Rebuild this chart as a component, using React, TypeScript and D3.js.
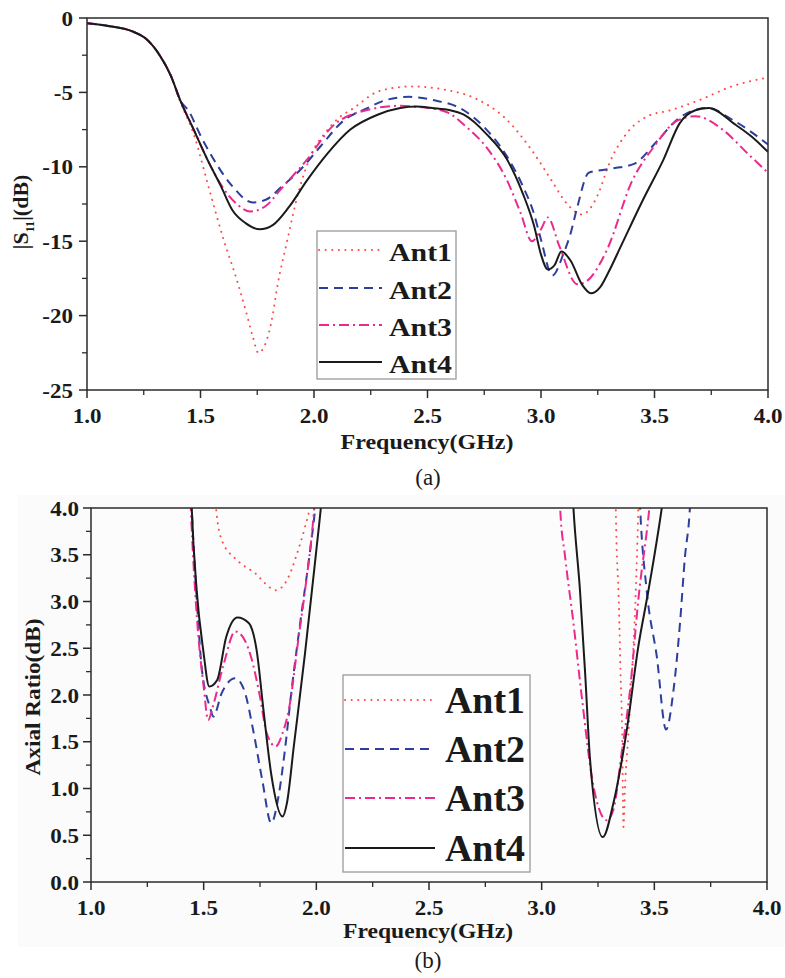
import React from 'react';
import * as d3 from 'd3';

// ---------------- DATA ----------------
const SERIES_NAMES = ['Ant1', 'Ant2', 'Ant3', 'Ant4'];

const X_TICKS = [1.0, 1.5, 2.0, 2.5, 3.0, 3.5, 4.0];
const X_TICK_LABELS = ['1.0', '1.5', '2.0', '2.5', '3.0', '3.5', '4.0'];

const S11_Y_TICKS = [0, -5, -10, -15, -20, -25];
const S11_Y_TICK_LABELS = ['0', '-5', '-10', '-15', '-20', '-25'];

const AR_Y_TICKS = [0, 0.5, 1.0, 1.5, 2.0, 2.5, 3.0, 3.5, 4.0];
const AR_Y_TICK_LABELS = ['0.0', '0.5', '1.0', '1.5', '2.0', '2.5', '3.0', '3.5', '4.0'];

// (a) |S11| (dB)
const S11_ANT1_F = [1.0, 1.1, 1.2, 1.26, 1.32, 1.37, 1.41, 1.47, 1.54, 1.6, 1.66, 1.7, 1.73, 1.755, 1.78, 1.81, 1.84, 1.88, 1.93, 1.99, 2.05, 2.11, 2.17, 2.29, 2.43, 2.57, 2.71, 2.84, 2.96, 3.05, 3.11, 3.18, 3.25, 3.3, 3.38, 3.47, 3.57, 3.7, 3.84, 4.0];
const S11_ANT1_DB = [-0.35, -0.55, -0.9, -1.4, -2.5, -3.9, -5.6, -7.8, -11.6, -14.8, -17.6, -19.7, -21.4, -22.5, -22.1, -20.6, -17.9, -15.1, -11.8, -9.1, -7.7, -6.7, -6.1, -4.9, -4.6, -4.8, -5.4, -6.7, -8.9, -11.0, -12.4, -13.2, -11.9, -9.8, -7.7, -6.6, -6.2, -5.5, -4.6, -4.0];

const S11_ANT2_F = [1.0, 1.1, 1.2, 1.26, 1.32, 1.37, 1.41, 1.45, 1.5, 1.57, 1.64, 1.73, 1.79, 1.86, 1.94, 2.03, 2.13, 2.23, 2.32, 2.42, 2.52, 2.66, 2.76, 2.85, 2.92, 2.97, 3.0, 3.05, 3.1, 3.13, 3.16, 3.21, 3.32, 3.41, 3.51, 3.61, 3.73, 3.85, 4.0];
const S11_ANT2_DB = [-0.35, -0.55, -0.9, -1.4, -2.5, -3.9, -5.5, -6.3, -7.9, -9.8, -11.3, -12.4, -12.2, -11.3, -10.2, -8.6, -6.9, -6.1, -5.5, -5.3, -5.5, -6.2, -7.5, -9.3, -11.3, -13.2, -14.9, -17.3, -15.8, -14.5, -12.7, -10.4, -10.1, -9.8, -8.3, -6.7, -6.05, -6.9, -8.5];

const S11_ANT3_F = [1.0, 1.1, 1.2, 1.26, 1.32, 1.37, 1.41, 1.47, 1.53, 1.59, 1.66, 1.72, 1.79, 1.86, 1.97, 2.08, 2.23, 2.38, 2.44, 2.58, 2.67, 2.76, 2.85, 2.91, 2.96, 3.0, 3.03, 3.08, 3.16, 3.2, 3.29, 3.4, 3.5, 3.6, 3.68, 3.8, 3.91, 4.0];
const S11_ANT3_DB = [-0.35, -0.55, -0.9, -1.4, -2.5, -3.9, -5.5, -7.5, -9.5, -11.2, -12.5, -13.0, -12.6, -11.4, -9.5, -7.3, -6.2, -5.9, -5.95, -6.3, -7.3, -8.7, -10.9, -13.1, -15.0, -14.2, -13.4, -15.3, -17.9, -17.7, -15.6, -11.0, -8.6, -6.9, -6.6, -7.5, -9.1, -10.4];

const S11_ANT4_F = [1.0, 1.1, 1.2, 1.26, 1.32, 1.37, 1.41, 1.47, 1.53, 1.59, 1.64, 1.7, 1.76, 1.82, 1.89, 1.97, 2.06, 2.16, 2.28, 2.38, 2.45, 2.52, 2.6, 2.66, 2.76, 2.85, 2.92, 2.97, 3.0, 3.03, 3.06, 3.09, 3.13, 3.18, 3.22, 3.26, 3.3, 3.35, 3.45, 3.54, 3.61, 3.68, 3.74, 3.85, 3.93, 4.0];
const S11_ANT4_DB = [-0.35, -0.55, -0.9, -1.4, -2.5, -3.9, -5.5, -7.5, -9.5, -11.3, -12.9, -13.8, -14.2, -13.9, -12.7, -10.9, -9.1, -7.5, -6.5, -6.05, -5.95, -6.05, -6.2, -6.5, -7.8, -9.5, -11.8, -14.0, -15.9, -16.9, -16.6, -15.7, -16.3, -17.9, -18.5, -18.1, -17.0, -15.4, -12.2, -9.5, -7.1, -6.2, -6.05, -7.1, -8.0, -9.0];

// (b) Axial ratio (dB), two bands per antenna (values above 4 leave the plot)
const AR_ANT1_B1_F = [1.545, 1.555, 1.58, 1.64, 1.68, 1.73, 1.77, 1.82, 1.87, 1.91, 1.95, 1.97, 1.985];
const AR_ANT1_B1_V = [4.4, 4.0, 3.66, 3.46, 3.38, 3.30, 3.2, 3.12, 3.23, 3.48, 3.80, 4.0, 4.3];
const AR_ANT1_B2_F = [3.327, 3.329, 3.343, 3.35, 3.357, 3.363, 3.37, 3.384, 3.40, 3.416, 3.429, 3.432];
const AR_ANT1_B2_V = [4.4, 4.0, 2.94, 2.23, 1.62, 0.59, 1.02, 1.55, 2.19, 3.01, 4.0, 4.3];

const AR_ANT2_B1_F = [1.44, 1.447, 1.47, 1.491, 1.528, 1.543, 1.58, 1.64, 1.68, 1.72, 1.76, 1.80, 1.831, 1.86, 1.89, 1.93, 1.97, 1.995, 2.01];
const AR_ANT2_B1_V = [4.4, 4.0, 3.0, 2.3, 1.87, 1.77, 2.02, 2.18, 2.05, 1.62, 1.09, 0.63, 0.9, 1.4, 2.05, 2.8, 3.5, 4.0, 4.4];
const AR_ANT2_B2_F = [3.43, 3.437, 3.466, 3.511, 3.552, 3.585, 3.614, 3.636, 3.656, 3.665];
const AR_ANT2_B2_V = [4.4, 4.0, 3.12, 2.41, 1.63, 2.05, 2.77, 3.48, 3.93, 4.3];

const AR_ANT3_B1_F = [1.435, 1.443, 1.47, 1.50, 1.52, 1.54, 1.59, 1.64, 1.66, 1.71, 1.75, 1.78, 1.82, 1.85, 1.88, 1.92, 1.95, 1.99, 2.0];
const AR_ANT3_B1_V = [4.5, 4.0, 2.83, 2.09, 1.73, 1.87, 2.34, 2.68, 2.66, 2.41, 1.98, 1.59, 1.45, 1.59, 1.87, 2.59, 3.12, 3.98, 4.3];
const AR_ANT3_B2_F = [3.075, 3.082, 3.104, 3.141, 3.178, 3.23, 3.289, 3.318, 3.355, 3.392, 3.429, 3.478, 3.49];
const AR_ANT3_B2_V = [4.4, 4.0, 3.48, 2.77, 1.98, 1.02, 0.66, 0.77, 1.38, 2.05, 3.02, 4.0, 4.3];

const AR_ANT4_B1_F = [1.44, 1.447, 1.469, 1.498, 1.525, 1.56, 1.60, 1.65, 1.70, 1.735, 1.765, 1.8, 1.85, 1.87, 1.90, 1.95, 2.0, 2.02, 2.035];
const AR_ANT4_B1_V = [4.5, 4.0, 3.12, 2.48, 2.09, 2.16, 2.62, 2.83, 2.77, 2.48, 1.85, 1.15, 0.70, 0.85, 1.45, 2.45, 3.55, 4.0, 4.4];
const AR_ANT4_B2_F = [3.13, 3.141, 3.170, 3.193, 3.215, 3.271, 3.318, 3.378, 3.429, 3.474, 3.533, 3.55];
const AR_ANT4_B2_V = [4.5, 4.0, 3.12, 2.23, 1.30, 0.48, 0.84, 1.63, 2.52, 3.12, 4.0, 4.3];

// ---------------- STYLE ----------------
const FONT = "'Liberation Serif','Times New Roman',Times,serif";
const STYLES = [
  { color: '#ff4a4a', dash: '0.1 6.5', width: 2, cap: 'round' },
  { color: '#2d3e9c', dash: '9 6', width: 2, cap: 'butt' },
  { color: '#ec2a8c', dash: '10 4 2 4', width: 2, cap: 'butt' },
  { color: '#1a1a1a', dash: undefined, width: 2, cap: 'butt' },
];
const AXIS = '#2b2b2b';

// approximate Times-Bold advance widths (em) to size tick labels like the reference
const glyphW = (c: string) => (c === '.' ? 0.25 : c === '-' ? 0.333 : 0.5);
const labelLen = (s: string, size: number) => s.split('').reduce((a, c) => a + glyphW(c), 0) * size;

const zip = (f: number[], v: number[]) => f.map((x, i) => [x, v[i]] as [number, number]);

function Axes({ x, y, xTicks, xLabels, yTicks, yLabels, xLabelY, yLabelRight }: any) {
  const [x0, x1] = x.range();
  const [y0, y1] = y.range();
  const xMinor = xTicks.slice(1).map((t: number, i: number) => (t + xTicks[i]) / 2);
  const yMinor = yTicks.slice(1).map((t: number, i: number) => (t + yTicks[i]) / 2);
  return (
    <g>
      <rect x={x0} y={y1} width={x1 - x0} height={y0 - y1} fill="none" stroke={AXIS} strokeWidth={1.5} />
      {xTicks.map((t: number, i: number) => (
        <g key={'xt' + i}>
          <line x1={x(t)} x2={x(t)} y1={y0} y2={y0 + 8} stroke={AXIS} strokeWidth={1.5} />
          <text x={x(t)} y={xLabelY} textAnchor="middle" fontFamily={FONT} fontWeight="bold" fontSize={21}
            textLength={labelLen(xLabels[i], 23)} lengthAdjust="spacingAndGlyphs" fill="#1a1a1a">{xLabels[i]}</text>
        </g>
      ))}
      {xMinor.map((t: number, i: number) => (
        <line key={'xm' + i} x1={x(t)} x2={x(t)} y1={y0} y2={y0 + 5} stroke={AXIS} strokeWidth={1.3} />
      ))}
      {yTicks.map((t: number, i: number) => (
        <g key={'yt' + i}>
          <line x1={x0 - 8} x2={x0} y1={y(t)} y2={y(t)} stroke={AXIS} strokeWidth={1.5} />
          <text x={yLabelRight} y={y(t)} dy="0.36em" textAnchor="end" fontFamily={FONT} fontWeight="bold" fontSize={21}
            textLength={labelLen(yLabels[i], 23)} lengthAdjust="spacingAndGlyphs" fill="#1a1a1a">{yLabels[i]}</text>
        </g>
      ))}
      {yMinor.map((t: number, i: number) => (
        <line key={'ym' + i} x1={x0 - 5} x2={x0} y1={y(t)} y2={y(t)} stroke={AXIS} strokeWidth={1.3} />
      ))}
    </g>
  );
}

function Series({ segs, x, y, style }: any) {
  const line = d3.line<[number, number]>().x((d) => x(d[0])).y((d) => y(d[1])).curve(d3.curveMonotoneX);
  return (
    <g>
      {segs.map((s: [number, number][], i: number) => (
        <path key={i} d={line(s) || ''} fill="none" stroke={style.color} strokeWidth={style.width}
          strokeDasharray={style.dash} strokeLinecap={style.cap} strokeLinejoin="round" />
      ))}
    </g>
  );
}

function Legend({ x0, y0, w, h, lineX0, lineX1, textX, ys, fontSize, textLen, baseOff }: any) {
  return (
    <g>
      <rect x={x0} y={y0} width={w} height={h} fill="#fff" stroke="#9a9a9a" strokeWidth={1.3} />
      {SERIES_NAMES.map((name, i) => {
        const st = STYLES[i];
        return (
          <g key={name}>
            <line x1={lineX0} x2={lineX1} y1={ys[i]} y2={ys[i]} stroke={st.color} strokeWidth={st.width}
              strokeDasharray={st.dash} strokeLinecap={st.cap as any} />
            <text x={textX} y={ys[i] + baseOff} fontFamily={FONT} fontWeight="bold" fontSize={fontSize}
              textLength={textLen} lengthAdjust="spacingAndGlyphs" fill="#1a1a1a">{name}</text>
          </g>
        );
      })}
    </g>
  );
}

export default function App() {
  // chart (a)
  const xa = d3.scaleLinear().domain([1, 4]).range([87, 768]);
  const ya = d3.scaleLinear().domain([-25, 0]).range([390, 18]);
  const s11 = [
    [zip(S11_ANT1_F, S11_ANT1_DB)],
    [zip(S11_ANT2_F, S11_ANT2_DB)],
    [zip(S11_ANT3_F, S11_ANT3_DB)],
    [zip(S11_ANT4_F, S11_ANT4_DB)],
  ];
  // chart (b)
  const xb = d3.scaleLinear().domain([1, 4]).range([91, 767]);
  const yb = d3.scaleLinear().domain([0, 4]).range([882, 508]);
  const ar = [
    [zip(AR_ANT1_B1_F, AR_ANT1_B1_V), zip(AR_ANT1_B2_F, AR_ANT1_B2_V)],
    [zip(AR_ANT2_B1_F, AR_ANT2_B1_V), zip(AR_ANT2_B2_F, AR_ANT2_B2_V)],
    [zip(AR_ANT3_B1_F, AR_ANT3_B1_V), zip(AR_ANT3_B2_F, AR_ANT3_B2_V)],
    [zip(AR_ANT4_B1_F, AR_ANT4_B1_V), zip(AR_ANT4_B2_F, AR_ANT4_B2_V)],
  ];

  return (
    <svg width={785} height={978} style={{ position: 'absolute', left: 0, top: 0, background: '#fff' }}>
      <defs>
        <clipPath id="clipA"><rect x={87} y={18} width={681} height={372} /></clipPath>
        <clipPath id="clipB"><rect x={91} y={508} width={676} height={374} /></clipPath>
      </defs>
      <rect x={0} y={0} width={785} height={978} fill="#fff" />

      {/* ----- (a) ----- */}
      <g clipPath="url(#clipA)">
        {[0, 1, 2, 3].map((i) => <Series key={i} segs={s11[i]} x={xa} y={ya} style={STYLES[i]} />)}
      </g>
      <Legend x0={317} y0={231} w={139} h={148} lineX0={319} lineX1={382} textX={389}
        ys={[250, 288, 325, 362]} fontSize={25} textLen={63} baseOff={11} />
      <Axes x={xa} y={ya} xTicks={X_TICKS} xLabels={X_TICK_LABELS} yTicks={S11_Y_TICKS}
        yLabels={S11_Y_TICK_LABELS} xLabelY={423} yLabelRight={73} />
      <text x={427} y={449} textAnchor="middle" fontFamily={FONT} fontWeight="bold" fontSize={21}
        textLength={173} lengthAdjust="spacingAndGlyphs" fill="#1a1a1a">Frequency(GHz)</text>
      <text transform="translate(28,212) rotate(-90)" textAnchor="middle" fontFamily={FONT} fontWeight="bold"
        fontSize={22} fill="#1a1a1a">|S<tspan fontSize={12} dy={6}>11</tspan><tspan dy={-6}>|(dB)</tspan></text>
      <text x={428} y={485} textAnchor="middle" fontFamily={FONT} fontSize={23} fill="#1a1a1a">(a)</text>

      {/* ----- (b) ----- */}
      <rect x={18} y={495} width={767} height={452} fill="#fbfbfb" />
      <rect x={91} y={508} width={676} height={374} fill="#fcfcfc" />
      <g clipPath="url(#clipB)">
        {[0, 1, 2, 3].map((i) => <Series key={i} segs={ar[i]} x={xb} y={yb} style={STYLES[i]} />)}
      </g>
      <Legend x0={343} y0={675} w={187} h={197} lineX0={345} lineX1={435} textX={445}
        ys={[700, 749, 798, 848]} fontSize={38} textLen={80} baseOff={13} />
      <Axes x={xb} y={yb} xTicks={X_TICKS} xLabels={X_TICK_LABELS} yTicks={AR_Y_TICKS}
        yLabels={AR_Y_TICK_LABELS} xLabelY={915} yLabelRight={79} />
      <text x={428} y={938} textAnchor="middle" fontFamily={FONT} fontWeight="bold" fontSize={21}
        textLength={170} lengthAdjust="spacingAndGlyphs" fill="#1a1a1a">Frequency(GHz)</text>
      <text transform="translate(40,697) rotate(-90)" textAnchor="middle" fontFamily={FONT} fontWeight="bold"
        fontSize={22} textLength={157} lengthAdjust="spacingAndGlyphs" fill="#1a1a1a">Axial Ratio(dB)</text>
      <text x={428} y={968} textAnchor="middle" fontFamily={FONT} fontSize={23} fill="#1a1a1a">(b)</text>
    </svg>
  );
}
